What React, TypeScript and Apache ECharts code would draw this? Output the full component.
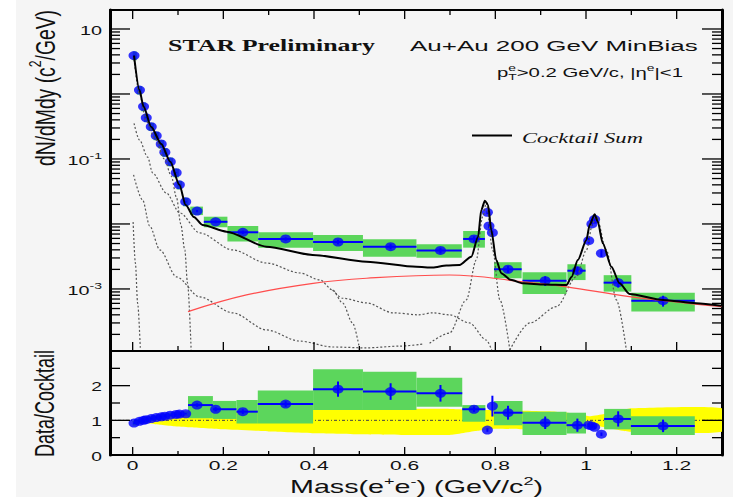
import React, { useEffect, useRef } from 'react';
import * as echarts from 'echarts';

// ---------------- axis ranges & ticks ----------------
const MASS_MIN = -0.05;
const MASS_MAX = 1.3;
const YIELD_MIN = 1.11e-4;
const YIELD_MAX = 19.6;
const RATIO_MIN = 0;
const RATIO_MAX = 3;

const massMajorTicks = [0, 0.2, 0.4, 0.6, 0.8, 1.0, 1.2];
const massMinorTicks = [0.1, 0.3, 0.5, 0.7, 0.9, 1.1];
const massTickLabels = ['0', '0.2', '0.4', '0.6', '0.8', '1', '1.2'];
const yieldMajorTicks = [1e-3, 1e-2, 1e-1, 1, 10];
const yieldMinorDecades = [1e-4, 1e-3, 1e-2, 1e-1, 1];
const yieldMinorMultipliers = [2, 3, 4, 5, 6, 7, 8, 9];
const yieldLabelValues = [10, 0.1, 0.001];
const yieldLabelExponents = ['', '-1', '-3'];
const ratioMajorTicks = [1, 2];
const ratioMinorTicks = [0.5, 1.5, 2.5];
const ratioLabelValues = [0, 1, 2];
const ratioTickLabels = ['0', '1', '2'];

// ---------------- top panel: data ----------------
const massTop = [0.003, 0.015, 0.024, 0.030, 0.041, 0.052, 0.063, 0.071, 0.083, 0.096, 0.103, 0.117,
  0.142, 0.183, 0.243, 0.3375, 0.453, 0.569, 0.679, 0.753, 0.7825, 0.786, 0.7935,
  0.828, 0.910, 0.981, 1.006, 1.013, 1.019, 1.034, 1.071, 1.170];
const yieldTop = [3.9, 1.15, 0.64, 0.43, 0.314, 0.228, 0.170, 0.127, 0.091, 0.0615, 0.040, 0.022,
  0.0158, 0.0108, 0.00745, 0.00588, 0.00528, 0.00448, 0.00391, 0.00588, 0.0151, 0.0093, 0.00734,
  0.00201, 0.00134, 0.00191, 0.00553, 0.0100, 0.0118, 0.00354, 0.00125, 0.00066];
const statRelTop = [0.02, 0.02, 0.02, 0.02, 0.02, 0.02, 0.02, 0.02, 0.02, 0.02, 0.03, 0.03,
  0.04, 0.05, 0.06, 0.06, 0.08, 0.09, 0.10, 0.10, 0.06, 0.08, 0.08,
  0.12, 0.17, 0.15, 0.10, 0.07, 0.06, 0.12, 0.16, 0.19];
const binLoTop = [0.000, 0.009, 0.019, 0.025, 0.035, 0.046, 0.057, 0.065, 0.077, 0.090, 0.097, 0.111,
  0.127, 0.157, 0.209, 0.277, 0.398, 0.508, 0.626, 0.729, null, null, null,
  0.797, 0.860, 0.959, null, null, null, null, 1.039, 1.100];
const binHiTop = [0.009, 0.021, 0.029, 0.035, 0.047, 0.058, 0.069, 0.077, 0.089, 0.102, 0.109, 0.123,
  0.155, 0.209, 0.277, 0.398, 0.508, 0.626, 0.726, 0.777, null, null, null,
  0.858, 0.957, 0.999, null, null, null, null, 1.100, 1.240];
const sysLoTop = [3.3, 0.98, 0.54, 0.37, 0.27, 0.194, 0.145, 0.108, 0.077, 0.052, 0.034, 0.0187,
  0.0137, 0.00889, 0.00535, 0.00432, 0.00385, 0.00314, 0.00303, 0.00432, null, null, null,
  0.00146, 0.000838, 0.00137, null, null, null, null, 0.00091, 0.000448];
const sysHiTop = [4.5, 1.32, 0.74, 0.49, 0.36, 0.262, 0.195, 0.146, 0.105, 0.071, 0.046, 0.0253,
  0.0185, 0.01294, 0.00931, 0.00745, 0.00678, 0.00582, 0.00488, 0.0078, null, null, null,
  0.00258, 0.00181, 0.0024, null, null, null, null, 0.00163, 0.000877];

// cocktail sum
const cocktailMass = [0.003, 0.015, 0.024, 0.041, 0.063, 0.083, 0.103, 0.117, 0.135, 0.154,
  0.207, 0.295, 0.397, 0.516, 0.626, 0.662, 0.692, 0.721, 0.747, 0.762,
  0.769, 0.777, 0.784, 0.791, 0.802, 0.813, 0.834, 0.861, 0.909, 0.957,
  0.968, 0.982, 1.001, 1.008, 1.019, 1.026, 1.037, 1.056, 1.074, 1.096,
  1.170, 1.243, 1.299];
const cocktailSum = [3.9, 1.15, 0.64, 0.31, 0.17, 0.091, 0.040, 0.0196, 0.0128, 0.00966,
  0.00762, 0.00448, 0.00334, 0.00263, 0.00220, 0.00213, 0.00230, 0.00234, 0.00314, 0.00638,
  0.0164, 0.0228, 0.0196, 0.00809, 0.00279, 0.00175, 0.00138, 0.00122, 0.00117, 0.00115,
  0.00153, 0.00279, 0.00567, 0.00966, 0.0141, 0.0108, 0.00505, 0.00220, 0.00122, 0.000838,
  0.000677, 0.000603, 0.00055];

// open charm (red)
const charmMass = [0.122, 0.251, 0.398, 0.516, 0.699, 0.861, 0.957, 1.096, 1.299];
const charmYield = [0.000448, 0.000809, 0.00122, 0.00146, 0.00164, 0.00129, 0.00108, 0.000762, 0.000535];

// cocktail components (dotted)
const pi0DalitzMass = [0.003, 0.015, 0.03, 0.05, 0.07, 0.085, 0.097, 0.106, 0.115, 0.121, 0.129];
const pi0DalitzYield = [3.4, 1.0, 0.38, 0.2, 0.1, 0.055, 0.025, 0.01, 0.004, 0.00123, 0.000115];
const etaDalitzMass = [0.003, 0.015, 0.033, 0.044, 0.074, 0.104, 0.148, 0.221, 0.295, 0.369, 0.413, 0.441, 0.463, 0.485, 0.501];
const etaDalitzYield = [0.354, 0.196, 0.107, 0.061, 0.030, 0.0148, 0.00727, 0.00398, 0.00251, 0.00176, 0.00138, 0.000966, 0.000609, 0.0003, 0.000115];
const omegaDalitzMass = [0.441, 0.463, 0.516, 0.574, 0.63, 0.662, 0.699, 0.743, 0.780, 0.792];
const omegaDalitzYield = [0.00097, 0.00072, 0.00061, 0.00043, 0.00040, 0.00043, 0.00040, 0.0003, 0.000164, 0.000115];
const gammaMass = [0.002, 0.022, 0.0375, 0.06, 0.097, 0.148, 0.221, 0.295, 0.368, 0.441, 0.516, 0.589, 0.64];
const gammaYield = [0.0568, 0.0234, 0.0093, 0.00398, 0.00153, 0.000753, 0.000428, 0.000234, 0.000158, 0.000128, 0.000124, 0.000132, 0.000142];
const steepMass = [0.001, 0.006, 0.011, 0.017];
const steepYield = [0.0107, 0.0025, 0.0006, 0.000115];
const omegaMass = [0.655, 0.699, 0.736, 0.758, 0.772, 0.780, 0.794, 0.81, 0.832];
const omegaYield = [0.000146, 0.00021, 0.00068, 0.00279, 0.0129, 0.021, 0.004, 0.00068, 0.000115];
const phiMass = [0.832, 0.876, 0.935, 0.979, 1.001, 1.015, 1.023, 1.045, 1.067, 1.089];
const phiYield = [0.000115, 0.0003, 0.000535, 0.00155, 0.00398, 0.0104, 0.0129, 0.00398, 0.00068, 0.000115];

// ---------------- bottom panel: data / cocktail ----------------
const ratioMass = [0.003, 0.015, 0.024, 0.030, 0.041, 0.052, 0.063, 0.071, 0.083, 0.096, 0.103, 0.117,
  0.142, 0.183, 0.243, 0.3375, 0.453, 0.569, 0.679, 0.753, 0.7825, 0.7935,
  0.828, 0.910, 0.981, 1.006, 1.013, 1.019, 1.034, 1.071, 1.170];
const ratioValue = [0.92, 0.97, 1.0, 1.02, 1.05, 1.08, 1.10, 1.12, 1.15, 1.17, 1.18, 1.19,
  1.44, 1.32, 1.25, 1.47, 1.90, 1.83, 1.78, 1.32, 0.72, 1.41,
  1.22, 0.93, 0.86, 0.86, 0.84, 0.80, 0.60, 1.04, 0.84];
const ratioStat = [0.02, 0.02, 0.02, 0.02, 0.02, 0.02, 0.02, 0.02, 0.02, 0.02, 0.02, 0.02,
  0.05, 0.06, 0.07, 0.08, 0.22, 0.24, 0.24, 0.08, 0.05, 0.3,
  0.2, 0.18, 0.19, 0.05, 0.05, 0.05, 0.05, 0.22, 0.18];
const ratioBinLo = [0.000, 0.009, 0.019, 0.025, 0.035, 0.046, 0.057, 0.065, 0.077, 0.090, 0.097, 0.111,
  0.122, 0.177, 0.229, 0.276, 0.398, 0.508, 0.626, 0.727, null, null,
  0.797, 0.860, 0.957, null, null, null, null, 1.040, 1.099];
const ratioBinHi = [0.009, 0.021, 0.029, 0.035, 0.047, 0.058, 0.069, 0.077, 0.089, 0.102, 0.109, 0.123,
  0.177, 0.229, 0.276, 0.398, 0.508, 0.626, 0.727, 0.778, null, null,
  0.860, 0.957, 1.000, null, null, null, null, 1.099, 1.240];
const ratioSysLo = [0.85, 0.90, 0.93, 0.95, 0.98, 1.01, 1.03, 1.05, 1.08, 1.10, 1.11, 1.12,
  1.06, 1.04, 0.91, 0.91, 1.30, 1.30, 1.39, 0.96, null, null,
  0.86, 0.58, 0.62, null, null, null, null, 0.74, 0.58];
const ratioSysHi = [0.99, 1.04, 1.07, 1.09, 1.12, 1.15, 1.17, 1.19, 1.22, 1.24, 1.25, 1.26,
  1.70, 1.56, 1.59, 1.86, 2.47, 2.40, 2.23, 1.44, null, null,
  1.56, 1.25, 1.22, null, null, null, null, 1.33, 1.12];

// cocktail systematic band (yellow)
const bandMass = [0.0, 0.03, 0.06, 0.09, 0.125, 0.2, 0.3, 0.4, 0.5, 0.6, 0.7, 0.76, 0.8, 0.86, 0.92, 0.97, 1.01, 1.04, 1.08, 1.1, 1.3];
const bandLo = [0.95, 0.92, 0.87, 0.83, 0.80, 0.74, 0.68, 0.63, 0.60, 0.58, 0.58, 0.70, 0.76, 0.74, 0.70, 0.78, 0.88, 0.80, 0.70, 0.67, 0.67];
const bandHi = [0.98, 1.0, 1.04, 1.09, 1.15, 1.24, 1.29, 1.32, 1.33, 1.33, 1.33, 1.30, 1.30, 1.28, 1.26, 1.2, 1.12, 1.18, 1.3, 1.35, 1.35];

// ---------------- styling ----------------
const W = 733;
const H = 497;
const SANS = '"Liberation Sans", Arial, Helvetica, sans-serif';
const SERIF = '"Liberation Serif", "Times New Roman", serif';
const BLUE = '#0000ff';
const GREEN = '#5cd65c';
const YELLOW = '#ffff00';
const TEXT = '#111111';
const TICK_SX = 1.75;
const LABEL_RIGHT = 102;

let measureCtx: CanvasRenderingContext2D | null = null;
function textWidth(t: string, size: number, family: string, weight = 'normal', style = 'normal') {
  if (!measureCtx) {
    const c = document.createElement('canvas');
    measureCtx = c.getContext('2d');
  }
  if (!measureCtx) return t.length * size * 0.55;
  measureCtx.font = `${style} ${weight} ${size}px ${family}`;
  return measureCtx.measureText(t).width;
}

type Part = { t: string; size: number; dy?: number; hold?: boolean };
function layoutParts(parts: Part[], family: string, weight = 'normal', fontStyle = 'normal', fill = TEXT) {
  let x = 0;
  let held = 0;
  const children: any[] = [];
  for (const p of parts) {
    const w = textWidth(p.t, p.size, family, weight, fontStyle);
    children.push({
      type: 'text', x, y: p.dy || 0, silent: true,
      style: { text: p.t, fontSize: p.size, fontFamily: family, fontWeight: weight, fontStyle, fill, align: 'left', verticalAlign: 'middle' },
    });
    if (p.hold) held = Math.max(held, w);
    else { x += Math.max(w, held); held = 0; }
  }
  return { children, width: x };
}

function fittedText(parts: Part[], o: { left: number; cy: number; width: number; family: string; weight?: string; fontStyle?: string; scaleY?: number }) {
  const { children, width } = layoutParts(parts, o.family, o.weight, o.fontStyle);
  return { type: 'group', x: o.left, y: o.cy, scaleX: o.width / width, scaleY: o.scaleY || 1, children };
}

function fittedVertical(parts: Part[], o: { cx: number; bottom: number; length: number; family: string; thick: number }) {
  const { children, width } = layoutParts(parts, o.family);
  return { type: 'group', x: o.cx, y: o.bottom, rotation: Math.PI / 2, scaleX: o.length / width, scaleY: o.thick, children };
}

const tickLine = (x1: number, y1: number, x2: number, y2: number) => ({
  type: 'line', shape: { x1, y1, x2, y2 }, style: { stroke: '#000', lineWidth: 1.3 },
});

function boxSeries(xIdx: number, yIdx: number, lo: (number | null)[], hi: (number | null)[], vlo: (number | null)[], vhi: (number | null)[]) {
  const rows: number[][] = [];
  lo.forEach((l, i) => {
    if (l !== null && hi[i] !== null && vlo[i] !== null && vhi[i] !== null) rows.push([l, hi[i] as number, vlo[i] as number, vhi[i] as number]);
  });
  return {
    type: 'custom', xAxisIndex: xIdx, yAxisIndex: yIdx, silent: true, clip: true,
    encode: { x: [0, 1], y: [2, 3] },
    data: rows,
    renderItem: (_p: any, api: any) => {
      const a = api.coord([api.value(0), api.value(2)]);
      const b = api.coord([api.value(1), api.value(3)]);
      return {
        type: 'rect',
        shape: { x: Math.min(a[0], b[0]), y: Math.min(a[1], b[1]), width: Math.abs(b[0] - a[0]), height: Math.abs(b[1] - a[1]) },
        style: { fill: GREEN },
      };
    },
  };
}

function errorSeries(xIdx: number, yIdx: number, rows: number[][]) {
  return {
    type: 'custom', xAxisIndex: xIdx, yAxisIndex: yIdx, silent: true, clip: true,
    encode: { x: [0, 2, 3], y: [1, 4, 5] },
    data: rows,
    renderItem: (_p: any, api: any) => {
      const m = api.value(0), v = api.value(1), xl = api.value(2), xh = api.value(3), vl = api.value(4), vh = api.value(5);
      const a = api.coord([xl, v]);
      const b = api.coord([xh, v]);
      const lo = api.coord([m, vl]);
      const hi = api.coord([m, vh]);
      const children: any[] = [];
      if (xh - xl > 0.03) children.push({ type: 'line', shape: { x1: a[0], y1: a[1], x2: b[0], y2: b[1] }, style: { stroke: BLUE, lineWidth: 2 } });
      children.push({ type: 'line', shape: { x1: lo[0], y1: lo[1], x2: hi[0], y2: hi[1] }, style: { stroke: BLUE, lineWidth: 2 } });
      return { type: 'group', children };
    },
  };
}

function dottedLine(mass: number[], y: number[]) {
  return {
    type: 'line', xAxisIndex: 0, yAxisIndex: 0, silent: true, showSymbol: false, smooth: 0.3, smoothMonotone: 'x',
    data: mass.map((m, i) => [m, y[i]]),
    lineStyle: { color: '#555', width: 1.2, type: [2, 2] },
  };
}

function buildOption(): any {
  const topErrRows = massTop.map((m, i) => {
    const binned = binLoTop[i] !== null && (binHiTop[i] as number) - (binLoTop[i] as number) > 0.03;
    return [m, yieldTop[i], binned ? (binLoTop[i] as number) : m, binned ? (binHiTop[i] as number) : m,
      yieldTop[i] * (1 - statRelTop[i]), yieldTop[i] * (1 + statRelTop[i])];
  });
  const ratioErrRows = ratioMass.map((m, i) => {
    const binned = ratioBinLo[i] !== null && (ratioBinHi[i] as number) - (ratioBinLo[i] as number) > 0.03;
    return [m, ratioValue[i], binned ? (ratioBinLo[i] as number) : m, binned ? (ratioBinHi[i] as number) : m,
      ratioValue[i] - ratioStat[i], ratioValue[i] + ratioStat[i]];
  });

  const yieldMinorTicks: number[] = [];
  yieldMinorDecades.forEach((d) => yieldMinorMultipliers.forEach((k) => {
    const v = d * k;
    if (v > YIELD_MIN && v < YIELD_MAX) yieldMinorTicks.push(v);
  }));

  const xAxisBase = (gridIndex: number, position: string, show: boolean) => ({
    type: 'value', gridIndex, position, min: MASS_MIN, max: MASS_MAX,
    axisLine: { show, onZero: false, lineStyle: { color: '#000', width: 2 } },
    axisTick: { show: false }, axisLabel: { show: false }, splitLine: { show: false },
  });

  const series: any[] = [
    // ---- top panel ----
    dottedLine(pi0DalitzMass, pi0DalitzYield),
    dottedLine(etaDalitzMass, etaDalitzYield),
    dottedLine(omegaDalitzMass, omegaDalitzYield),
    dottedLine(gammaMass, gammaYield),
    dottedLine(steepMass, steepYield),
    dottedLine(omegaMass, omegaYield),
    dottedLine(phiMass, phiYield),
    {
      type: 'line', name: 'charm', xAxisIndex: 0, yAxisIndex: 0, silent: true, showSymbol: false, smooth: 0.4,
      data: charmMass.map((m, i) => [m, charmYield[i]]),
      lineStyle: { color: '#ff4d4d', width: 1.2 },
    },
    {
      type: 'line', name: 'Cocktail Sum', xAxisIndex: 0, yAxisIndex: 0, silent: true, showSymbol: false, smooth: 0.25, smoothMonotone: 'x',
      data: cocktailMass.map((m, i) => [m, cocktailSum[i]]),
      lineStyle: { color: '#000', width: 2 },
    },
    boxSeries(0, 0, binLoTop, binHiTop, sysLoTop, sysHiTop),
    errorSeries(0, 0, topErrRows),
    {
      type: 'scatter', name: 'data', xAxisIndex: 0, yAxisIndex: 0, silent: true,
      symbol: 'circle', symbolSize: [11, 9],
      data: massTop.map((m, i) => [m, yieldTop[i]]),
      itemStyle: { color: BLUE },
    },
    // top panel ticks
    {
      type: 'custom', xAxisIndex: 0, yAxisIndex: 0, silent: true, clip: false, z: 10,
      encode: { x: 0, y: 1 },
      data: [...massMajorTicks.map((m) => [m, 1]), ...massMinorTicks.map((m) => [m, 2])],
      renderItem: (_p: any, api: any) => {
        const len = api.value(1) === 1 ? 9 : 5;
        const b = api.coord([api.value(0), YIELD_MIN]);
        const t = api.coord([api.value(0), YIELD_MAX]);
        return { type: 'group', children: [tickLine(b[0], b[1], b[0], b[1] - len), tickLine(t[0], t[1], t[0], t[1] + len)] };
      },
    },
    {
      type: 'custom', xAxisIndex: 0, yAxisIndex: 0, silent: true, clip: false, z: 10,
      encode: { x: 0, y: 1 },
      data: [...yieldMajorTicks.map((v) => [1, v]), ...yieldMinorTicks.map((v) => [2, v])],
      renderItem: (_p: any, api: any) => {
        const len = api.value(0) === 1 ? 20 : 10;
        const l = api.coord([MASS_MIN, api.value(1)]);
        const r = api.coord([MASS_MAX, api.value(1)]);
        return { type: 'group', children: [tickLine(l[0], l[1], l[0] + len, l[1]), tickLine(r[0], r[1], r[0] - len, r[1])] };
      },
    },
    // top panel y labels
    {
      type: 'custom', xAxisIndex: 0, yAxisIndex: 0, silent: true, clip: false, z: 10,
      encode: { x: 0, y: 1 },
      data: yieldLabelValues.map((v) => [MASS_MIN, v]),
      renderItem: (params: any, api: any) => {
        const p = api.coord([api.value(0), api.value(1)]);
        const exp = yieldLabelExponents[params.dataIndex];
        const parts: Part[] = [{ t: '10', size: 12 }];
        if (exp) parts.push({ t: exp, size: 8.5, dy: -5 });
        const { children, width } = layoutParts(parts, SANS);
        return { type: 'group', x: LABEL_RIGHT - width * 1.65, y: p[1] + 2, scaleX: 1.65, children };
      },
    },
    // ---- bottom panel ----
    {
      type: 'custom', xAxisIndex: 2, yAxisIndex: 2, silent: true, clip: true,
      encode: { x: 0, y: [1, 2] },
      data: [[bandMass[0], bandLo[0], bandHi[0]]],
      renderItem: (_p: any, api: any) => {
        const upper = bandMass.map((m, i) => api.coord([m, bandHi[i]]));
        const lower = bandMass.map((m, i) => api.coord([m, bandLo[i]])).reverse();
        const a = api.coord([MASS_MIN, 1]);
        const b = api.coord([MASS_MAX, 1]);
        return {
          type: 'group', children: [
            { type: 'polygon', shape: { points: [...upper, ...lower], smooth: 0.15 }, style: { fill: YELLOW } },
            { type: 'line', shape: { x1: a[0], y1: a[1], x2: b[0], y2: b[1] }, style: { stroke: '#444', lineWidth: 1, lineDash: [3, 2, 1, 2] } },
          ],
        };
      },
    },
    boxSeries(2, 2, ratioBinLo, ratioBinHi, ratioSysLo, ratioSysHi),
    errorSeries(2, 2, ratioErrRows),
    {
      type: 'scatter', name: 'ratio', xAxisIndex: 2, yAxisIndex: 2, silent: true,
      symbol: 'circle', symbolSize: [11, 9],
      data: ratioMass.map((m, i) => [m, ratioValue[i]]),
      itemStyle: { color: BLUE },
    },
    {
      type: 'custom', xAxisIndex: 2, yAxisIndex: 2, silent: true, clip: false, z: 10,
      encode: { x: 0, y: 1 },
      data: [...massMajorTicks.map((m) => [m, 1]), ...massMinorTicks.map((m) => [m, 2])],
      renderItem: (_p: any, api: any) => {
        const len = api.value(1) === 1 ? 8 : 4;
        const b = api.coord([api.value(0), RATIO_MIN]);
        return tickLine(b[0], b[1], b[0], b[1] - len);
      },
    },
    {
      type: 'custom', xAxisIndex: 2, yAxisIndex: 2, silent: true, clip: false, z: 10,
      encode: { x: 0, y: 1 },
      data: [...ratioMajorTicks.map((v) => [1, v]), ...ratioMinorTicks.map((v) => [2, v])],
      renderItem: (_p: any, api: any) => {
        const len = api.value(0) === 1 ? 20 : 10;
        const l = api.coord([MASS_MIN, api.value(1)]);
        const r = api.coord([MASS_MAX, api.value(1)]);
        return { type: 'group', children: [tickLine(l[0], l[1], l[0] + len, l[1]), tickLine(r[0], r[1], r[0] - len, r[1])] };
      },
    },
    {
      type: 'custom', xAxisIndex: 2, yAxisIndex: 2, silent: true, clip: false, z: 10,
      encode: { x: 0, y: 1 },
      data: massMajorTicks.map((m) => [m, RATIO_MIN]),
      renderItem: (params: any, api: any) => {
        const p = api.coord([api.value(0), api.value(1)]);
        const { children, width } = layoutParts([{ t: massTickLabels[params.dataIndex], size: 12 }], SANS);
        return { type: 'group', x: p[0] - (width * TICK_SX) / 2, y: p[1] + 11, scaleX: TICK_SX, children };
      },
    },
    {
      type: 'custom', xAxisIndex: 2, yAxisIndex: 2, silent: true, clip: false, z: 10,
      encode: { x: 0, y: 1 },
      data: ratioLabelValues.map((v) => [MASS_MIN, v]),
      renderItem: (params: any, api: any) => {
        const p = api.coord([api.value(0), api.value(1)]);
        const { children, width } = layoutParts([{ t: ratioTickLabels[params.dataIndex], size: 12 }], SANS);
        return { type: 'group', x: LABEL_RIGHT - width * 1.6, y: p[1] + 1.5, scaleX: 1.6, children };
      },
    },
  ];

  const graphics: any[] = [
    { type: 'rect', shape: { x: 0, y: 0, width: 16, height: H }, style: { fill: '#ffffff' }, silent: true },
    fittedText([{ t: 'STAR Preliminary', size: 17 }], { left: 168, cy: 45.5, width: 207, family: SERIF, weight: 'bold' }),
    fittedText([{ t: 'Au+Au 200 GeV MinBias', size: 15 }], { left: 410, cy: 46, width: 288, family: SANS }),
    fittedText([
      { t: 'p', size: 12.5 }, { t: 'e', size: 8.5, dy: -5, hold: true }, { t: 'T', size: 8.5, dy: 4 },
      { t: '>0.2 GeV/c, |η', size: 12.5 }, { t: 'e', size: 8.5, dy: -5 }, { t: '|<1', size: 12.5 },
    ], { left: 497, cy: 73, width: 186, family: SANS }),
    { type: 'line', shape: { x1: 472, y1: 135.5, x2: 512, y2: 135.5 }, style: { stroke: '#000', lineWidth: 2 }, silent: true },
    fittedText([{ t: 'Cocktail Sum', size: 15 }], { left: 522, cy: 137.5, width: 121, family: SERIF, fontStyle: 'italic' }),
    fittedVertical([{ t: 'dN/dMdy (c', size: 19 }, { t: '2', size: 12, dy: -7 }, { t: '/GeV)', size: 19 }],
      { cx: 45, bottom: 166, length: 156, family: SANS, thick: 1.45 }),
    fittedVertical([{ t: 'Data/Cocktail', size: 18.5 }], { cx: 45, bottom: 457, length: 107, family: SANS, thick: 1.45 }),
    fittedText([
      { t: 'Mass(e', size: 17.5 }, { t: '+', size: 11, dy: -6 }, { t: 'e', size: 17.5 }, { t: '-', size: 11, dy: -6 },
      { t: ') (GeV/c', size: 17.5 }, { t: '2', size: 11, dy: -6 }, { t: ')', size: 17.5 },
    ], { left: 290, cy: 486.5, width: 253, family: SANS }),
  ];

  return {
    animation: false,
    backgroundColor: '#f5f5f5',
    grid: [
      { left: 110, top: 10, width: 612, height: 341, containLabel: false, outerBoundsMode: 'none' },
      { left: 110, top: 351, width: 612, height: 104, containLabel: false, outerBoundsMode: 'none' },
    ],
    xAxis: [
      xAxisBase(0, 'bottom', true),
      xAxisBase(0, 'top', true),
      xAxisBase(1, 'bottom', true),
    ],
    yAxis: [
      {
        type: 'log', logBase: 10, gridIndex: 0, position: 'left', min: YIELD_MIN, max: YIELD_MAX,
        axisLine: { show: true, onZero: false, lineStyle: { color: '#000', width: 3 } },
        axisTick: { show: false }, axisLabel: { show: false }, splitLine: { show: false },
      },
      {
        type: 'log', logBase: 10, gridIndex: 0, position: 'right', min: YIELD_MIN, max: YIELD_MAX,
        axisLine: { show: true, onZero: false, lineStyle: { color: '#000', width: 3 } },
        axisTick: { show: false }, axisLabel: { show: false }, splitLine: { show: false },
      },
      {
        type: 'value', gridIndex: 1, position: 'left', min: RATIO_MIN, max: RATIO_MAX,
        axisLine: { show: true, onZero: false, lineStyle: { color: '#000', width: 3 } },
        axisTick: { show: false }, axisLabel: { show: false }, splitLine: { show: false },
      },
      {
        type: 'value', gridIndex: 1, position: 'right', min: RATIO_MIN, max: RATIO_MAX,
        axisLine: { show: true, onZero: false, lineStyle: { color: '#000', width: 3 } },
        axisTick: { show: false }, axisLabel: { show: false }, splitLine: { show: false },
      },
    ],
    series,
    graphic: { elements: graphics },
  };
}

export default function App() {
  const ref = useRef<HTMLDivElement>(null);
  useEffect(() => {
    if (!ref.current) return undefined;
    const chart = echarts.init(ref.current, null, { renderer: 'svg' });
    chart.setOption(buildOption());
    return () => chart.dispose();
  }, []);
  return <div ref={ref} style={{ position: 'absolute', left: 0, top: 0, width: W, height: H }} />;
}
